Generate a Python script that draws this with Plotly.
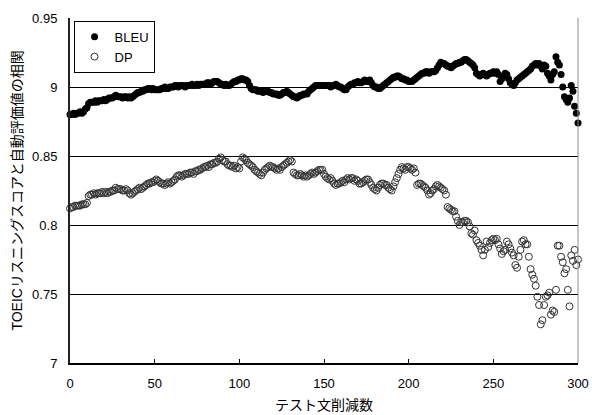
import plotly.graph_objects as go

# x: number of removed test sentences
x_values = list(range(0, 301))

bleu = [
    0.880, 0.880, 0.881, 0.880, 0.881, 0.881, 0.882, 0.881, 0.882, 0.884,
    0.885, 0.888, 0.889, 0.889, 0.889, 0.890, 0.889, 0.890, 0.890, 0.890,
    0.891, 0.890, 0.891, 0.892, 0.892, 0.892, 0.893, 0.894, 0.893, 0.893,
    0.893, 0.892, 0.893, 0.893, 0.892, 0.893, 0.892, 0.893, 0.894, 0.895,
    0.896, 0.896, 0.897, 0.897, 0.898, 0.898, 0.899, 0.899, 0.898, 0.899,
    0.898, 0.898, 0.898, 0.898, 0.899, 0.899, 0.900, 0.899, 0.899, 0.900,
    0.900, 0.900, 0.901, 0.901, 0.900, 0.901, 0.901, 0.901, 0.900, 0.901,
    0.901, 0.901, 0.902, 0.901, 0.901, 0.902, 0.901, 0.902, 0.902, 0.902,
    0.902, 0.903, 0.903, 0.902, 0.903, 0.904, 0.904, 0.904, 0.903, 0.902,
    0.902, 0.901, 0.902, 0.901, 0.901, 0.902, 0.903, 0.904, 0.904, 0.905,
    0.905, 0.906, 0.906, 0.905, 0.905, 0.904, 0.901, 0.899, 0.898, 0.898,
    0.898, 0.897, 0.897, 0.897, 0.896, 0.897, 0.897, 0.897, 0.896, 0.896,
    0.895, 0.895, 0.895, 0.894, 0.894, 0.895, 0.896, 0.896, 0.897, 0.896,
    0.895, 0.894, 0.893, 0.893, 0.892, 0.893, 0.894, 0.894, 0.895, 0.895,
    0.895, 0.897, 0.898, 0.899, 0.900, 0.901, 0.901, 0.901, 0.901, 0.901,
    0.901, 0.901, 0.901, 0.901, 0.900, 0.901, 0.901, 0.902, 0.901, 0.900,
    0.900, 0.899, 0.898, 0.898, 0.900, 0.901, 0.902, 0.902, 0.903, 0.903,
    0.904, 0.903, 0.903, 0.904, 0.905, 0.904, 0.904, 0.905, 0.903, 0.901,
    0.900, 0.900, 0.899, 0.899, 0.900, 0.901, 0.902, 0.903, 0.904, 0.905,
    0.906, 0.907, 0.907, 0.908, 0.908, 0.907, 0.906, 0.906, 0.905, 0.905,
    0.904, 0.904, 0.904, 0.905, 0.906, 0.907, 0.908, 0.909, 0.910, 0.910,
    0.911, 0.911, 0.910, 0.911, 0.911, 0.911, 0.912, 0.914, 0.916, 0.918,
    0.917, 0.917, 0.916, 0.915, 0.915, 0.914, 0.915, 0.916, 0.917, 0.917,
    0.918, 0.918, 0.919, 0.920, 0.920, 0.919, 0.918, 0.917, 0.916, 0.914,
    0.910, 0.909, 0.908, 0.909, 0.910, 0.909, 0.908, 0.909, 0.910, 0.910,
    0.911, 0.910, 0.911, 0.909, 0.904, 0.906, 0.908, 0.910, 0.909, 0.906,
    0.903, 0.902, 0.901, 0.903, 0.905, 0.906, 0.907, 0.908, 0.909, 0.910,
    0.911, 0.912, 0.913, 0.915, 0.916, 0.917, 0.916, 0.917, 0.915, 0.913,
    0.916, 0.915, 0.910, 0.908, 0.905, 0.909, 0.911, 0.922, 0.918, 0.916,
    0.909, 0.900, 0.893, 0.891, 0.889, 0.892, 0.901, 0.897, 0.886, 0.881,
    0.874,
]

dp = [
    0.812, 0.813, 0.813, 0.814, 0.814, 0.814, 0.814, 0.815, 0.815, 0.815,
    0.816, 0.821, 0.822, 0.822, 0.823, 0.822, 0.823, 0.823, 0.823, 0.824,
    0.823, 0.824, 0.823, 0.824, 0.824, 0.825, 0.825, 0.827, 0.826, 0.826,
    0.826, 0.825, 0.825, 0.826, 0.825, 0.823, 0.822, 0.823, 0.824, 0.825,
    0.826, 0.827, 0.826, 0.827, 0.828, 0.829, 0.830, 0.830, 0.831, 0.831,
    0.832, 0.833, 0.832, 0.831, 0.830, 0.830, 0.829, 0.830, 0.831, 0.830,
    0.831, 0.832, 0.833, 0.835, 0.836, 0.836, 0.835, 0.836, 0.837, 0.837,
    0.837, 0.838, 0.838, 0.837, 0.839, 0.839, 0.840, 0.840, 0.841, 0.842,
    0.842, 0.843, 0.842, 0.844, 0.844, 0.845, 0.845, 0.846, 0.848, 0.849,
    0.847, 0.846, 0.846, 0.844, 0.843, 0.843, 0.842, 0.843, 0.841, 0.842,
    0.841, 0.846, 0.849, 0.848, 0.847, 0.845, 0.844, 0.843, 0.842, 0.840,
    0.839, 0.838, 0.837, 0.836, 0.838, 0.840, 0.841, 0.842, 0.843, 0.842,
    0.842, 0.841, 0.840, 0.841, 0.840, 0.842, 0.843, 0.844, 0.845, 0.846,
    0.847, 0.846, 0.838, 0.837, 0.836, 0.836, 0.837, 0.836, 0.835, 0.836,
    0.835, 0.836, 0.837, 0.838, 0.837, 0.838, 0.839, 0.840, 0.840, 0.840,
    0.837, 0.835, 0.834, 0.833, 0.834, 0.832, 0.830, 0.829, 0.830, 0.830,
    0.831, 0.832, 0.831, 0.833, 0.834, 0.833, 0.834, 0.834, 0.832, 0.833,
    0.832, 0.830, 0.830, 0.831, 0.832, 0.833, 0.833, 0.831, 0.829, 0.827,
    0.826, 0.825, 0.827, 0.829, 0.830, 0.830, 0.829, 0.829, 0.827, 0.826,
    0.825, 0.828, 0.831, 0.834, 0.837, 0.840, 0.842, 0.841, 0.840, 0.842,
    0.842, 0.841, 0.840, 0.841, 0.838, 0.829, 0.830, 0.830, 0.829, 0.828,
    0.827, 0.825, 0.822, 0.823, 0.825, 0.826, 0.828, 0.829, 0.828, 0.827,
    0.826, 0.825, 0.822, 0.813, 0.812, 0.811, 0.810, 0.810, 0.806, 0.803,
    0.800, 0.802, 0.802, 0.803, 0.803, 0.802, 0.799, 0.794, 0.793, 0.796,
    0.789, 0.787, 0.785, 0.782, 0.778, 0.782, 0.788, 0.784, 0.787, 0.789,
    0.790, 0.789, 0.790, 0.786, 0.783, 0.779, 0.781, 0.782, 0.788, 0.786,
    0.783, 0.780, 0.778, 0.771, 0.769, 0.777, 0.782, 0.788, 0.789, 0.786,
    0.786, 0.777, 0.768, 0.764, 0.761, 0.756, 0.748, 0.742, 0.728, 0.731,
    0.742, 0.748, 0.749, 0.751, 0.735, 0.738, 0.737, 0.753, 0.785, 0.785,
    0.777, 0.773, 0.765, 0.768, 0.753, 0.741, 0.778, 0.774, 0.782, 0.771,
    0.775,
]

y_tick_values = [0.7, 0.75, 0.8, 0.85, 0.9, 0.95]
y_tick_labels = ["7", "0.75", "0.8", "0.85", "9", "0.95"]
x_tick_values = [0, 50, 100, 150, 200, 250, 300]

FONT = "Liberation Sans, Arial, Noto Sans CJK JP, sans-serif"

fig = go.Figure()
fig.add_trace(go.Scatter(
    x=x_values, y=bleu, mode="markers", name="BLEU",
    marker=dict(symbol="circle", size=7, color="black", line=dict(width=0)),
    cliponaxis=False,
))
fig.add_trace(go.Scatter(
    x=x_values, y=dp, mode="markers", name="DP",
    marker=dict(symbol="circle-open", size=7, color="#333333", line=dict(width=1)),
    cliponaxis=False,
))

fig.update_layout(
    width=592, height=415,
    margin=dict(l=70, r=14, t=18, b=52),
    paper_bgcolor="white", plot_bgcolor="white",
    font=dict(family=FONT, size=12, color="black"),
    showlegend=True,
    legend=dict(
        x=0.007, y=0.992, xanchor="left", yanchor="top",
        bgcolor="white", bordercolor="black", borderwidth=1,
        font=dict(size=13), itemsizing="trace",
        tracegroupgap=0, itemwidth=30,
    ),
    xaxis=dict(
        range=[0, 300], tickvals=x_tick_values, automargin=False,
        showgrid=False, zeroline=False,
        showline=True, linecolor="black", linewidth=2,
        ticks="inside", ticklen=4, tickcolor="black",
        tickfont=dict(size=13), ticklabelstandoff=7,
        title=dict(text="テスト文削減数", font=dict(size=14), standoff=11),
    ),
    yaxis=dict(
        range=[0.7, 0.95], tickvals=y_tick_values, ticktext=y_tick_labels,
        automargin=False,
        showgrid=True, gridcolor="black", gridwidth=1, zeroline=False,
        showline=True, linecolor="#222222", linewidth=2,
        ticks="inside", ticklen=4, tickcolor="black",
        tickfont=dict(size=13), ticklabelstandoff=8,
        title=dict(text="TOEICリスニングスコアと自動評価値の相関", font=dict(size=14), standoff=6),
    ),
    shapes=[dict(
        type="line", xref="x domain", yref="y domain",
        x0=1, x1=1, y0=0, y1=1, line=dict(color="#8c8c8c", width=1),
    )],
)

fig.write_html("out.html")
